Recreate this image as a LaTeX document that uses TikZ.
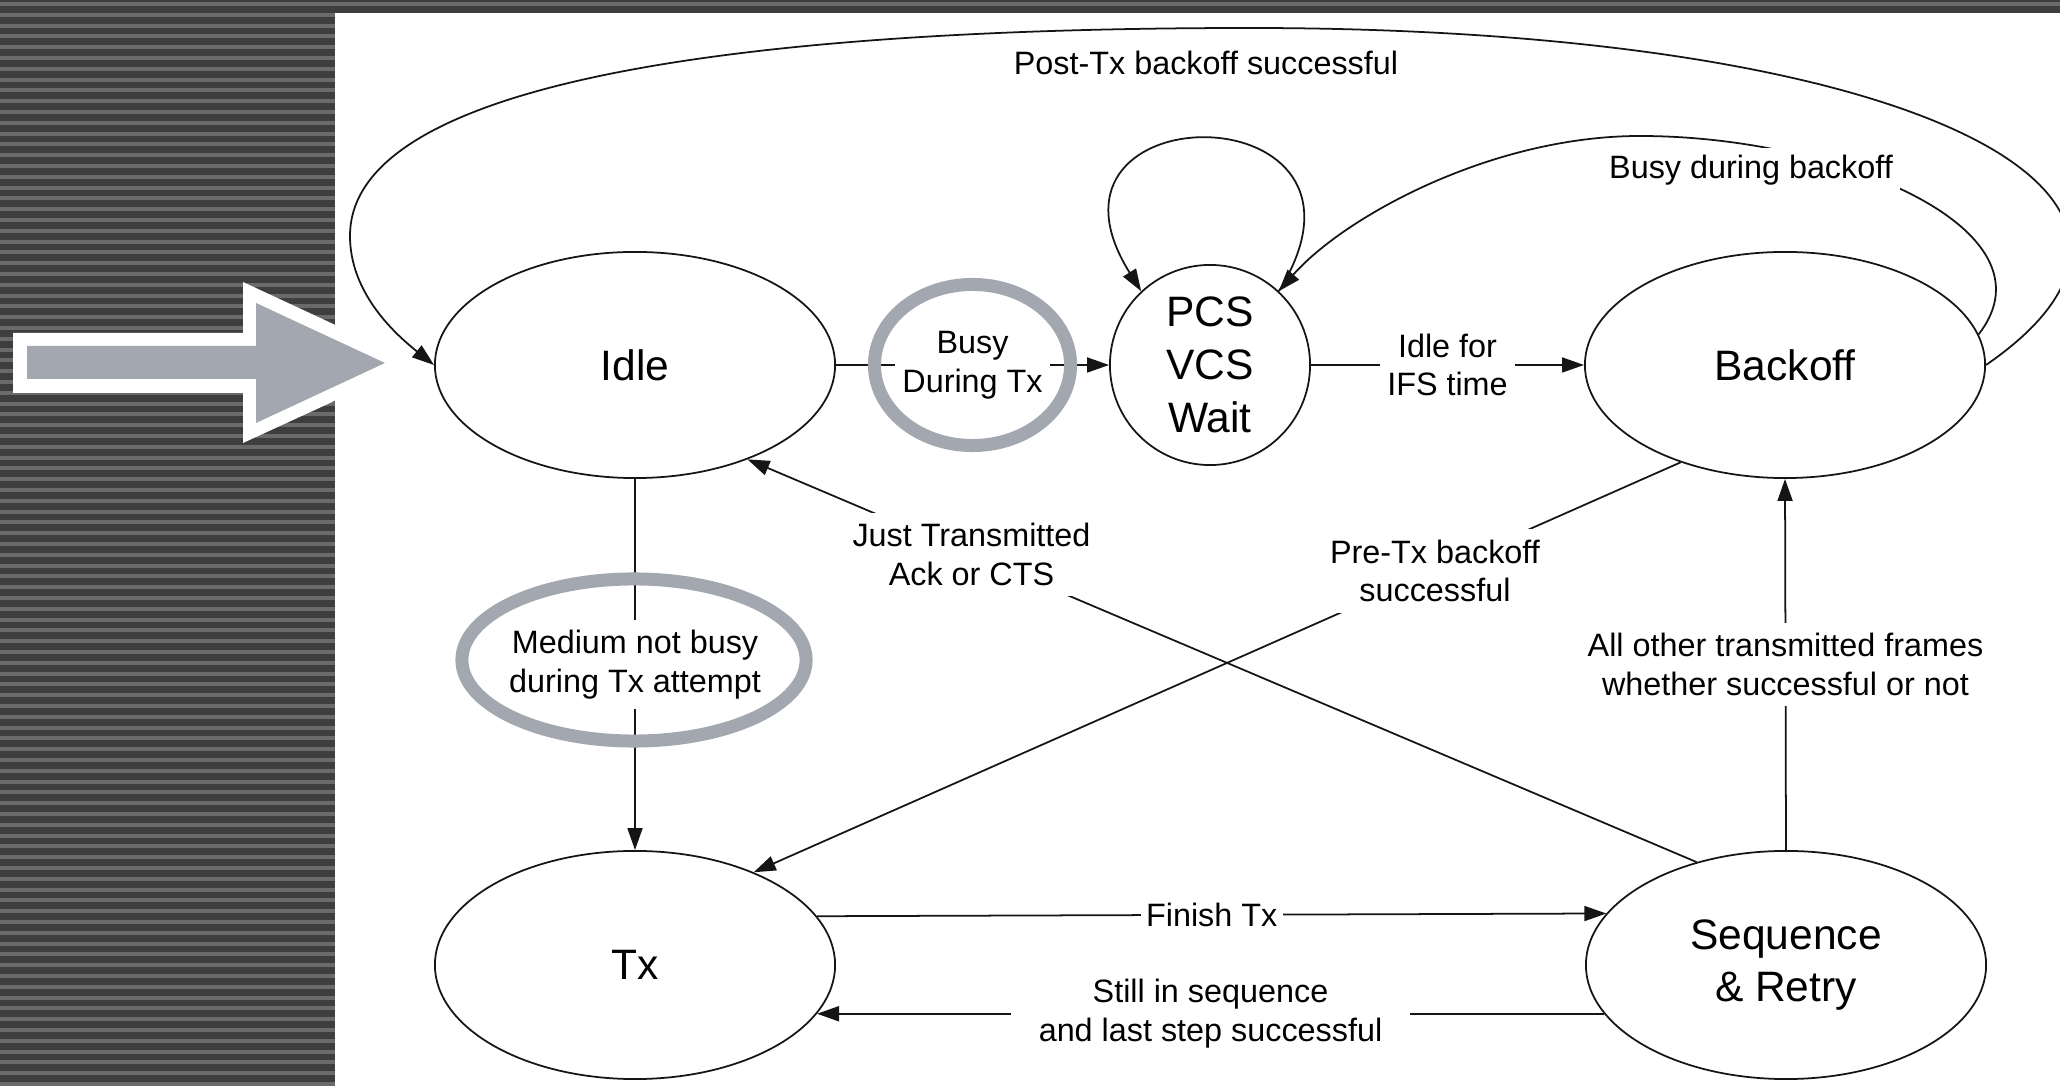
\documentclass[tikz,border=0pt]{standalone}
\usepackage{fontspec}
\setmainfont{Liberation Sans}
\usetikzlibrary{shapes.geometric,arrows.meta}
\definecolor{bgdark}{HTML}{3E3E3E}
\definecolor{bglight}{HTML}{6A6A6A}
\definecolor{hl}{HTML}{A3A8B0}
\definecolor{ink}{HTML}{151515}
\begin{document}
\begin{tikzpicture}[x=0.01cm,y=-0.01cm,
  state/.style={ellipse,draw=ink,line width=0.5pt,fill=white,inner sep=0pt,
    minimum width=4cm,minimum height=2.26cm,align=center,
    font=\fontsize{12.1pt}{15pt}\selectfont},
  lbl/.style={fill=white,inner sep=3pt,align=center,
    font=\fontsize{9.2pt}{11pt}\selectfont},
  plainlbl/.style={inner sep=0pt,align=center,font=\fontsize{9.2pt}{11pt}\selectfont},
  conn/.style={draw=ink,line width=0.5pt},
  arr/.style={conn,-{Triangle[length=0.22cm,width=0.15cm]}},
  ring/.style={ellipse,draw=hl,line width=0.13cm,inner sep=0pt}
]
\useasboundingbox (0,0) rectangle (2060,1086);
% background
\fill[bgdark] (0,0) rectangle (2060,1086);
\foreach \i in {0,...,100} \fill[bglight] (0,{2+\i*10.8}) rectangle (2060,{6+\i*10.8});
\fill[white] (335,13) rectangle (2060,1086);
% pointer arrow
\fill[white] (13,333) -- (243,333) -- (243,282) -- (417,363) -- (243,443) -- (243,393) -- (13,393) -- cycle;
\fill[hl] (27,346) -- (256,346) -- (256,303) -- (385,363) -- (256,423) -- (256,379) -- (27,379) -- cycle;

% states
\node[state] (idle) at (635,365) {Idle};
\node[state,circle,minimum size=2cm] (pcs) at (1210,365) {PCS\\VCS\\Wait};
\node[state] (backoff) at (1785,365) {Backoff};
\node[state,minimum height=2.28cm] (tx) at (635,965) {Tx};
\node[state,minimum height=2.28cm] (seq) at (1786,965) {Sequence\\\& Retry};

% transitions
\draw[arr] (idle.east) -- node[lbl,inner sep=2pt] (lb1) {Busy\\During Tx} (pcs.west);
\draw[arr] (pcs.east) -- node[lbl,inner sep=2pt] (lb2) {Idle for\\IFS time} (backoff.west);
\draw[arr] (idle.south) -- node[lbl] (lb3) {Medium not busy\\during Tx attempt} (tx.north);
\draw[arr] (seq.north) -- node[lbl] (lb4) {All other transmitted frames\\whether successful or not} (backoff.south);
\draw[arr] (seq.131) -- node[lbl,pos=0.764] (lb5) {Just Transmitted\\Ack or CTS} (idle.320);
\draw[arr] (backoff.223) -- node[lbl,pos=0.265] (lb6) {Pre-Tx backoff\\successful} (tx.38);
\draw[arr] (tx.15) -- node[lbl,inner xsep=1.5pt] (lb7) {Finish Tx} (seq.164);
\draw[arr] (seq.195) -- node[lbl,inner xsep=8pt] (lb8) {Still in sequence\\and last step successful} (tx.345);

% self loop on PCS
\draw[arr] (pcs.47) .. controls (1405,89) and (1015,89) .. (pcs.133);
% busy during backoff
\draw[arr] (backoff.9) .. controls (2060,230) and (1840,136) .. (1640,136)
  .. controls (1490,136) and (1343,218) .. (pcs.47);
\node[lbl,inner sep=2pt] (lb9) at (1751,170) {Busy during backoff};
% post-Tx backoff successful
\draw[arr] (backoff.east) .. controls (2240,190) and (1900,28) .. (1250,28)
  .. controls (700,28) and (350,90) .. (350,236)
  .. controls (350,290) and (390,330) .. (idle.west);
\node[plainlbl] (lb10) at (1206,63) {Post-Tx backoff successful};

% highlight rings
\node[ring,minimum width=1.96cm,minimum height=1.61cm] (r1) at (lb1.center) {};
\node[ring,minimum width=3.44cm,minimum height=1.62cm] (r2) at (634,660) {};
\end{tikzpicture}
\end{document}
